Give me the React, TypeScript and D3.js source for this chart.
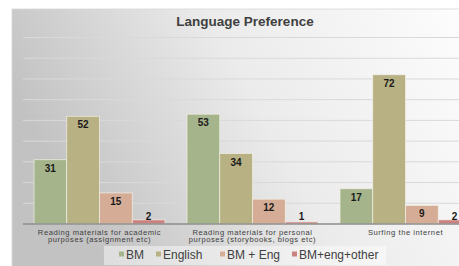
import React from 'react';
import * as d3 from 'd3';

// data
const categories = [
  ['Reading materials for academic', 'purposes (assignment etc)'],
  ['Reading materials for personal', 'purposes (storybooks, blogs etc)'],
  ['Surfing the internet'],
];
const seriesNames = ['BM', 'English', 'BM + Eng', 'BM+eng+other'];
const bmValues = [31, 53, 17];
const englishValues = [52, 34, 72];
const bmEngValues = [15, 12, 9];
const otherValues = [2, 1, 2];
const seriesColors = ['#a5b48b', '#b7b183', '#d5ad96', '#cc8181'];
const gridTicks = [10, 20, 30, 40, 50, 60, 70, 80, 90];

const W = 459;
const H = 266;
const FONT = '"Liberation Sans", Arial, sans-serif';

export default function App() {
  const values = [bmValues, englishValues, bmEngValues, otherValues];
  const base = 224;

  const x0 = d3.scaleBand<number>()
    .domain(d3.range(categories.length))
    .range([23, 482])
    .paddingInner(0.144)
    .paddingOuter(0.072);
  const x1 = d3.scaleBand<number>()
    .domain(d3.range(seriesNames.length))
    .range([0, x0.bandwidth()]);
  const y = d3.scaleLinear().domain([0, 90]).range([base, 37.5]);

  // legend layout (square + text)
  const legendX = [119, 156, 220, 292];

  return (
    <div style={{ position: 'absolute', left: 0, top: 0 }}>
      <svg width={W} height={H} style={{ display: 'block', fontFamily: FONT }}>
        <defs>
          <linearGradient id="bg" x1="0" y1="0.3" x2="1" y2="0">
            <stop offset="0" stopColor="#c2c2c2" />
            <stop offset="0.45" stopColor="#ebebeb" />
            <stop offset="1" stopColor="#ffffff" />
          </linearGradient>
        </defs>
        <rect x={0} y={0} width={W} height={H} fill="#ffffff" />
        <rect x={12} y={9} width={480} height={270} fill="url(#bg)" stroke="#d8d8d8" strokeWidth={0.8} />

        <text x={245} y={26} textAnchor="middle" fontSize={13.5} fontWeight="bold" fill="#404040">
          Language Preference
        </text>

        {gridTicks.map(t => (
          <line key={t} x1={23} x2={482} y1={y(t)} y2={y(t)} stroke="#d9d9d9" strokeWidth={1} />
        ))}

        {categories.map((cat, ci) => (
          <g key={ci} transform={`translate(${x0(ci)},0)`}>
            {values.map((vals, si) => {
              const v = vals[ci];
              const top = y(v);
              const cx = (x1(si) as number) + x1.bandwidth() / 2;
              const ly = Math.min(top + 8.5, base - 8);
              return (
                <g key={si}>
                  <rect
                    x={x1(si)}
                    y={top}
                    width={x1.bandwidth()}
                    height={base - top}
                    fill={seriesColors[si]}
                    stroke="#f2f0e6"
                    strokeWidth={0.7}
                  />
                  <text x={cx} y={ly} dy="0.35em" textAnchor="middle" fontSize={10} fontWeight="bold" fill="#1a1a1a">
                    {v}
                  </text>
                </g>
              );
            })}
            {cat.map((line, li) => (
              <text
                key={li}
                x={x0.bandwidth() / 2}
                y={234.5 + li * 7.7}
                textAnchor="middle"
                fontSize={7.6}
                letterSpacing={0.55}
                fill="#404040"
              >
                {line}
              </text>
            ))}
          </g>
        ))}

        <line x1={23} x2={482} y1={base} y2={base} stroke="#8c8c8c" strokeWidth={1.3} />

        <rect x={104} y={246} width={282} height={19} fill="#ffffff" fillOpacity={0.45} />
        {seriesNames.map((name, i) => (
          <g key={name}>
            <rect x={legendX[i]} y={251.5} width={5} height={5} fill={seriesColors[i]} />
            <text x={legendX[i] + 7} y={258.5} fontSize={12} fill="#404040">
              {name}
            </text>
          </g>
        ))}
      </svg>
    </div>
  );
}
